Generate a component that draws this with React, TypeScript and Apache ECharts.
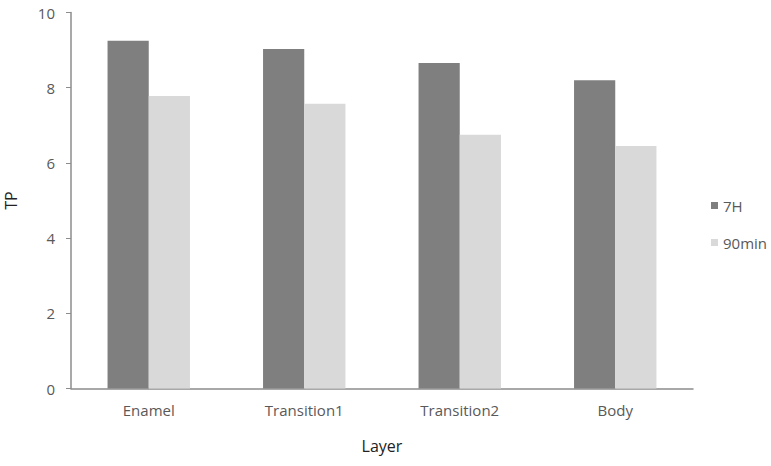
import React, { useEffect, useRef } from "react";
import * as echarts from "echarts";

const categories = ["Enamel", "Transition1", "Transition2", "Body"];
const series7H = [9.25, 9.03, 8.66, 8.2];
const series90min = [7.78, 7.57, 6.75, 6.45];
const seriesNames = ["7H", "90min"];
const yTicks = { min: 0, max: 10, interval: 2 };

export default function App() {
  const ref = useRef<HTMLDivElement>(null);
  useEffect(() => {
    if (!ref.current) return;
    const chart = echarts.init(ref.current, null, { renderer: "svg" });
    const font = "'Open Sans', 'Noto Sans', sans-serif";
    chart.setOption({
      animation: false,
      textStyle: { fontFamily: font },
      grid: {
        left: 71,
        right: 78,
        top: 12.5,
        bottom: 77.5,
        containLabel: false,
        outerBoundsMode: "none",
      },
      legend: {
        orient: "vertical",
        left: 706,
        top: 193,
        itemWidth: 7,
        itemHeight: 7,
        itemGap: 22,
        icon: "rect",
        textStyle: { color: "#595959", fontSize: 15, fontFamily: font },
        data: seriesNames,
      },
      xAxis: {
        type: "category",
        data: categories,
        name: "Layer",
        nameLocation: "middle",
        nameGap: 49,
        nameTextStyle: { color: "#222", fontSize: 16, fontFamily: font },
        axisLine: { show: true, lineStyle: { color: "#8c8c8c", width: 1.5 } },
        axisTick: { show: false },
        axisLabel: { color: "#595959", fontSize: 15, margin: 14, fontFamily: font },
      },
      yAxis: {
        type: "value",
        min: yTicks.min,
        max: yTicks.max,
        interval: yTicks.interval,
        name: "TP",
        nameLocation: "middle",
        nameGap: 52,
        nameTextStyle: { color: "#222", fontSize: 16, fontFamily: font },
        axisLine: { show: true, lineStyle: { color: "#8c8c8c", width: 1.5 } },
        axisTick: { show: true, inside: false, length: 5, lineStyle: { color: "#8c8c8c" } },
        splitLine: { show: false },
        axisLabel: { color: "#595959", fontSize: 15, margin: 16, fontFamily: font },
      },
      series: [
        {
          name: seriesNames[0],
          type: "bar",
          data: series7H,
          itemStyle: { color: "#7f7f7f" },
          barGap: "0%",
          barCategoryGap: "47%",
        },
        {
          name: seriesNames[1],
          type: "bar",
          data: series90min,
          itemStyle: { color: "#d9d9d9" },
          barGap: "0%",
          barCategoryGap: "47%",
        },
      ],
    });
    return () => chart.dispose();
  }, []);
  return (
    <div
      ref={ref}
      style={{ position: "fixed", left: 0, top: 0, width: 771, height: 466, background: "#fff" }}
    />
  );
}
